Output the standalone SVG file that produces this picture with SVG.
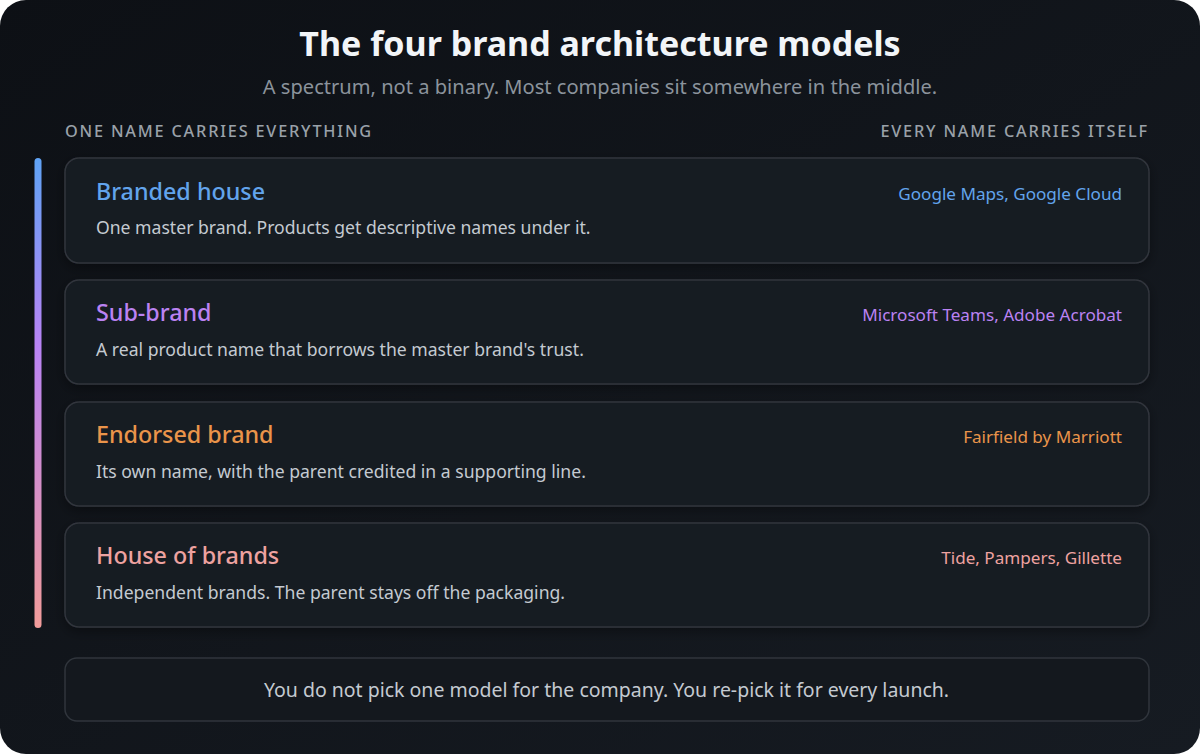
<svg xmlns="http://www.w3.org/2000/svg" width="1200" height="754" viewBox="0 0 1200 754">
<defs>
<linearGradient id="bg" x1="0" y1="0" x2="1" y2="1">
<stop offset="0" stop-color="#0d1015"/>
<stop offset="1" stop-color="#161b22"/>
</linearGradient>
<linearGradient id="bar" x1="0" y1="0" x2="0" y2="1">
<stop offset="0" stop-color="#5fa3f5"/>
<stop offset="0.4" stop-color="#b983f5"/>
<stop offset="1" stop-color="#f29c9a"/>
</linearGradient>
<filter id="sh" x="-5%" y="-20%" width="110%" height="150%">
<feDropShadow dx="0" dy="4" stdDeviation="6" flood-color="#000" flood-opacity="0.35"/>
</filter>
<style>
text{font-family:"Noto Sans","Open Sans","Liberation Sans",sans-serif}
.card{fill:#181c22;stroke:#30353c;stroke-width:1.5}
.t{font-size:23.3px;font-weight:500}
.d{font-size:17.6px;fill:#c4cad1}
.ex{font-size:17.1px;text-anchor:end}
.hdr{font-size:16.3px;fill:#9aa1a9;letter-spacing:1.8px;font-weight:500}
</style>
</defs>
<rect width="1200" height="754" fill="#ffffff"/>
<rect width="1200" height="754" rx="26" fill="url(#bg)"/>
<text x="600" y="56" text-anchor="middle" font-size="34" font-weight="700" fill="#f2f5f8">The four brand architecture models</text>
<text x="600" y="94" text-anchor="middle" font-size="20.1" fill="#8b939c">A spectrum, not a binary. Most companies sit somewhere in the middle.</text>
<text class="hdr" x="65" y="137">ONE NAME CARRIES EVERYTHING</text>
<text class="hdr" x="1149" y="137" text-anchor="end">EVERY NAME CARRIES ITSELF</text>
<rect x="34.5" y="158" width="7" height="470" rx="3.5" fill="url(#bar)"/>
<g id="branded-house">
<rect class="card" x="65" y="158" width="1084" height="105" rx="14" filter="url(#sh)"/>
<text class="t" x="96" y="200" fill="#62a4ec">Branded house</text>
<text class="d" x="96" y="234">One master brand. Products get descriptive names under it.</text>
<text class="ex" x="1122" y="200" fill="#62a4ec">Google Maps, Google Cloud</text>
</g>
<g id="sub-brand">
<rect class="card" x="65" y="280" width="1084" height="104" rx="14" filter="url(#sh)"/>
<text class="t" x="96" y="321" fill="#bb82f2">Sub-brand</text>
<text class="d" x="96" y="356">A real product name that borrows the master brand's trust.</text>
<text class="ex" x="1122" y="321" fill="#bb82f2">Microsoft Teams, Adobe Acrobat</text>
</g>
<g id="endorsed-brand">
<rect class="card" x="65" y="402" width="1084" height="104" rx="14" filter="url(#sh)"/>
<text class="t" x="96" y="443" fill="#ea944a">Endorsed brand</text>
<text class="d" x="96" y="478">Its own name, with the parent credited in a supporting line.</text>
<text class="ex" x="1122" y="443" fill="#ea944a">Fairfield by Marriott</text>
</g>
<g id="house-of-brands">
<rect class="card" x="65" y="523" width="1084" height="104" rx="14" filter="url(#sh)"/>
<text class="t" x="96" y="564" fill="#eea2a0">House of brands</text>
<text class="d" x="96" y="599">Independent brands. The parent stays off the packaging.</text>
<text class="ex" x="1122" y="564" fill="#eea2a0">Tide, Pampers, Gillette</text>
</g>
<g id="footer">
<rect x="65" y="658" width="1084" height="63" rx="12" fill="#14181e" stroke="#30353c" stroke-width="1.5"/>
<text x="606.5" y="697" text-anchor="middle" font-size="19.5" fill="#c4cad1">You do not pick one model for the company. You re-pick it for every launch.</text>
</g>
<g id="connectors"/>
</svg>
